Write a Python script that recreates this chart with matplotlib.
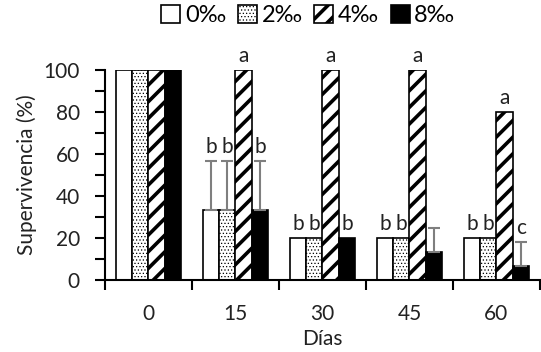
import numpy as np
import matplotlib
matplotlib.use("Agg")
import matplotlib.pyplot as plt
from matplotlib.patches import Patch

plt.rcParams['font.family'] = ['Lato', 'DejaVu Sans']

# data
dias = ["0", "15", "30", "45", "60"]
series = ["0‰", "2‰", "4‰", "8‰"]
valores = [
    [100, 33.3, 20, 20, 20],     # 0‰
    [100, 33.3, 20, 20, 20],     # 2‰
    [100, 100, 100, 100, 80],    # 4‰
    [100, 33.3, 20, 13.3, 6.7],  # 8‰
]
errores = [
    [0, 23.5, 0, 0, 0],
    [0, 23.5, 0, 0, 0],
    [0, 0, 0, 0, 0],
    [0, 23.5, 0, 11.5, 11.5],
]
letras = [
    ["", "b", "b", "b", "b"],
    ["", "b", "b", "b", "b"],
    ["", "a", "a", "a", "a"],
    ["", "b", "b", "", "c"],
]

estilos = [
    dict(facecolor="white", hatch=None, hlw=1.0),
    dict(facecolor="white", hatch=".....", hlw=0.5),
    dict(facecolor="white", hatch="//", hlw=2.6),
    dict(facecolor="black", hatch=None, hlw=1.0),
]

fs = 15

fig = plt.figure(figsize=(5.41, 3.52), dpi=100)
ax = fig.add_axes([0.194, 0.2045, 0.804, 0.5965])

x = np.arange(len(dias))
w = 0.187
handles = []
for i, (nombre, vals, errs, lets, st) in enumerate(zip(series, valores, errores, letras, estilos)):
    pos = x + (i - 1.5) * w
    with plt.rc_context({"hatch.linewidth": st["hlw"]}):
        ax.bar(pos, vals, width=w, facecolor=st["facecolor"], edgecolor="black",
               hatch=st["hatch"], linewidth=1.2, zorder=2)
    handles.append(Patch(facecolor=st["facecolor"], edgecolor="black",
                         hatch=st["hatch"], linewidth=1.2, label=nombre))
    for p, v, e, l in zip(pos, vals, errs, lets):
        if e > 0:
            ax.errorbar(p, v, yerr=[[0], [e]], fmt="none", ecolor="#7f7f7f",
                        elinewidth=1.5, capsize=4, capthick=1.5, zorder=3)
        if l:
            ax.text(p, v + e + 2, l, ha="center", va="bottom", fontsize=fs,
                    color="#222222", clip_on=False)

ax.set_xlim(-0.5, 4.5)
ax.set_ylim(0, 100)
ax.set_yticks(np.arange(0, 101, 20))
ax.set_yticks(np.arange(0, 101, 10), minor=True)
ax.set_xticks(x)
ax.set_xticklabels(dias)
ax.set_xticks(np.arange(-0.5, 4.6, 1), minor=True)
ax.tick_params(axis="x", which="major", length=0, pad=17, labelsize=fs, labelcolor="#222222")
ax.tick_params(axis="x", which="minor", length=7, width=1.5, direction="out")
ax.tick_params(axis="y", which="both", length=7, width=1.5, direction="out",
               pad=11, labelsize=fs, labelcolor="#222222")

for s in ["top", "right"]:
    ax.spines[s].set_visible(False)
ax.spines["left"].set_linewidth(1.5)
ax.spines["bottom"].set_linewidth(1.5)

ax.set_ylabel("Supervivencia (%)", fontsize=fs, color="#222222", labelpad=5)
ax.set_xlabel("Días", fontsize=fs, color="#222222", labelpad=4)

leg = fig.legend(handles=handles, loc="center", bbox_to_anchor=(0.57, 0.955), ncol=4,
                 frameon=False, fontsize=17, handlelength=0.8, handleheight=0.8,
                 handletextpad=0.2, columnspacing=0.5, borderaxespad=0)
# legend patches do not keep the per-bar hatch width, set it again
for patch, st in zip(leg.get_patches(), estilos):
    if hasattr(patch, "set_hatch_linewidth"):
        patch.set_hatch_linewidth(st["hlw"])
    else:
        patch._hatch_linewidth = st["hlw"]

fig.savefig("out.png", dpi=100)
